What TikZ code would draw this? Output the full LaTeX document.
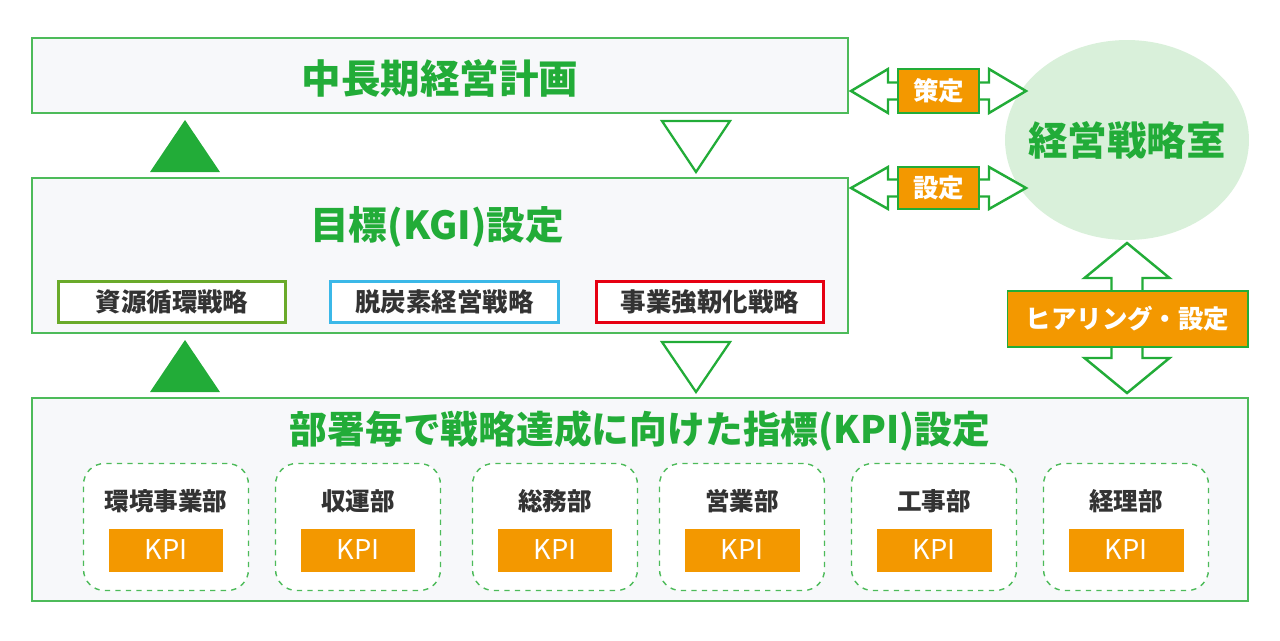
\documentclass[tikz,border=0pt]{standalone}
\usepackage{fontspec}
\setmainfont{Noto Sans CJK JP}
\usetikzlibrary{shapes.geometric}
\definecolor{kgreen}{HTML}{22AC38}
\definecolor{lgreen}{HTML}{4DBB5A}
\definecolor{boxbg}{HTML}{F7F8FA}
\definecolor{korange}{HTML}{F39800}
\definecolor{ktext}{HTML}{333333}
\definecolor{olive}{HTML}{6AAA2A}
\definecolor{kcyan}{HTML}{3BB8E8}
\definecolor{kred}{HTML}{E60012}
\definecolor{ellbg}{HTML}{D9F0DA}
\tikzset{
  panel/.style={draw=lgreen, line width=1.2pt, fill=boxbg, inner sep=0pt},
  ptitle/.style={text=kgreen, font=\fontsize{#1}{27pt}\bfseries\selectfont},
  ptitle/.default=22.5pt,
  strat/.style={draw=#1, line width=1.7pt, fill=white, minimum width=4.56cm, minimum height=0.82cm,
    text=ktext, font=\fontsize{14.5pt}{17pt}\bfseries\selectfont},
  dept/.style={draw=lgreen, dashed, line width=0.8pt, rounded corners=0.42cm, fill=white,
    minimum width=3.3cm, minimum height=2.54cm},
  dname/.style={text=ktext, font=\fontsize{14pt}{17pt}\bfseries\selectfont},
  kpi/.style={fill=korange, text=white, minimum width=2.3cm, minimum height=0.86cm,
    font=\fontsize{15.5pt}{18pt}\selectfont},
  tag/.style={fill=korange, draw=kgreen, line width=0.6pt, text=white, inner sep=0pt,
    font=\fontsize{14.5pt}{17pt}\bfseries\selectfont},
  pics/dblarrow/.style n args={4}{code={
    \draw[kgreen, line width=1.4pt, fill=white, line join=miter]
      (-#1,0) -- (-#1+#2,-#3) -- (-#1+#2,-#4) -- (#1-#2,-#4) -- (#1-#2,-#3) -- (#1,0)
      -- (#1-#2,#3) -- (#1-#2,#4) -- (-#1+#2,#4) -- (-#1+#2,#3) -- cycle;
  }}
}
\begin{document}
\begin{tikzpicture}[x=0.02cm, y=-0.02cm]
\useasboundingbox (0,0) rectangle (1280,640);
\node[panel, minimum width=16.32cm, minimum height=1.5cm] (plan) at (440,75.5) {};
\node[ptitle] (plantitle) at (440,78) {中長期経営計画};
\node[panel, minimum width=16.32cm, minimum height=3.1cm] (kgi) at (440,255.5) {};
\node[ptitle=22pt] (kgititle) at (437,227) {目標(KGI)設定};
\node[strat=olive] (s1) at (172,301.5) {資源循環戦略};
\node[strat=kcyan] (s2) at (444.5,301.5) {脱炭素経営戦略};
\node[strat=kred] (s3) at (710,301.5) {事業強靭化戦略};
\node[panel, minimum width=24.32cm, minimum height=4.06cm] (kpis) at (640,499.5) {};
\node[ptitle=21.5pt] (kpititle) at (640,431) {部署毎で戦略達成に向けた指標(KPI)設定};
\foreach \x/\name [count=\i] in {166/環境事業部,358/収運部,555/総務部,742/営業部,934/工事部,1126/経理部}{
  \node[dept] (d\i) at (\x,527) {};
  \node[dname] (n\i) at (\x,501) {\name};
  \node[kpi] (k\i) at (\x,550) {KPI};
}
\node[ellipse, fill=ellbg, inner sep=0pt, minimum width=4.88cm, minimum height=4cm] (office) at (1127,140) {};
\node[ptitle] (officetitle) at (office.center) {経営戦略室};
\fill[kgreen] (150,172) -- (185,120) -- (220,172) -- cycle;
\fill[kgreen] (150,392) -- (185,340) -- (220,392) -- cycle;
\draw[kgreen, line width=1.3pt] (662,121) -- (730,121) -- (696,172) -- cycle;
\draw[kgreen, line width=1.3pt] (662,342) -- (730,342) -- (696,392) -- cycle;
\pic at (938.5,91) {dblarrow={87.5}{37}{22}{8.5}};
\pic at (938.5,188) {dblarrow={87.5}{37}{21}{8.5}};
\pic[rotate=90] at (1127,318) {dblarrow={75}{35}{42.5}{15.5}};
\node[tag, minimum width=1.62cm, minimum height=0.88cm] (plantag) at (938.5,91) {策定};
\node[tag, minimum width=1.62cm, minimum height=0.84cm] (kgitag) at (938.5,188) {設定};
\node[tag, minimum width=4.82cm, minimum height=1.12cm] (hear) at (1127.5,319) {ヒアリング・設定};
\end{tikzpicture}
\end{document}
